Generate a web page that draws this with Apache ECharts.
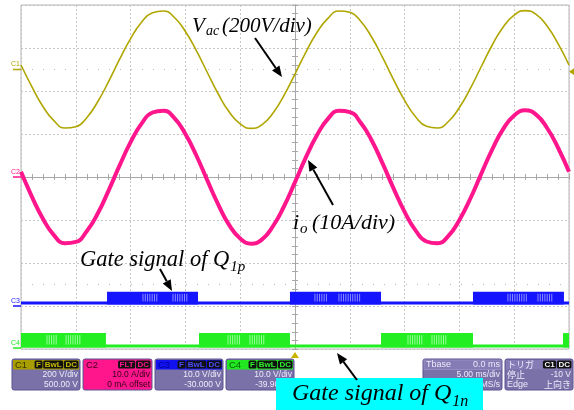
<!DOCTYPE html>
<html><head><meta charset="utf-8">
<script src="https://cdn.jsdelivr.net/npm/echarts@6/dist/echarts.min.js"></script>
<style>html,body{margin:0;padding:0;background:#fff}#c{width:574px;height:410px}</style>
</head><body><div id="c"></div><script>
// ---- data ----
const timeMs = [-25,-24,-23,-22,-21,-20,-19,-18,-17,-16,-15,-14,-13,-12,-11,-10,-9,-8,-7,-6,-5,-4,-3,-2,-1,0,1,2,3,4,5,6,7,8,9,10,11,12,13,14,15,16,17,18,19,20,21,22,23,24,25];
const vacVolts = [21,-81,-172,-238,-272,-266,-224,-150,-55,48,144,220,264,272,242,177,88,-14,-114,-198,-253,-274,-256,-202,-120,-21,81,172,238,272,266,224,150,55,-48,-144,-220,-264,-272,-242,-177,-88,14,114,198,253,274,256,202,120,21];
const ioAmps = [1.2,-4.6,-9.7,-13.5,-15.4,-15.1,-12.6,-8.5,-3.1,2.7,8.1,12.4,15.0,15.4,13.7,10.0,5.0,-0.8,-6.4,-11.2,-14.3,-15.5,-14.5,-11.4,-6.8,-1.2,4.6,9.7,13.5,15.4,15.1,12.6,8.5,3.1,-2.7,-8.1,-12.4,-15.0,-15.4,-13.7,-10.0,-5.0,0.8,6.4,11.2,14.3,15.5,14.5,11.4,6.8,1.2];
const c1OffsetV = 500, c1VoltsPerDiv = 200;
const c2AmpsPerDiv = 10;
const c3OffsetV = -30, c3VoltsPerDiv = 10;
const c4OffsetV = -39.9, c4VoltsPerDiv = 10;
const q1pHighMs = [[-17.15,-8.85],[-0.46,7.85],[16.24,24.54]];
const q1nHighMs = [[-25,-17.25],[-8.76,-0.46],[7.85,16.24],[24.45,25]];
const q1pLevelsV = [0.7, 3.3];
const q1nLevelsV = [0.6, 3.6];
const q1pGapMs = [[-13.87,-12.59],[-11.13,-9.76],[1.82,3.01],[4.01,5.93],[19.43,21.26],[22.17,23.54]];
const q1nGapMs = [[-22.63,-21.72],[-20.89,-19.62],[-6.11,-5.02],[-4.11,-2.83],[10.31,11.59],[12.5,13.96]];
const triggerLevelV = -10;
const dotRowsDiv = [2.5, -2.5];

const C1 = '#b0a600', C2 = '#ff168c', C3 = '#1414ff', C4 = '#22ee22';
const chart = echarts.init(document.getElementById('c'), null, {renderer:'canvas'});

function blockRender(levels, offset, vpd, color){
  return function(params, api){
    const a = api.coord([api.value(0), (levels[1]+offset)/vpd]);
    const b = api.coord([api.value(1), (levels[0]+offset)/vpd]);
    return {type:'rect', shape:{x:a[0], y:a[1], width:b[0]-a[0], height:b[1]-a[1]+1.5}, style:{fill:color}};
  };
}
function stripeRender(levels, offset, vpd, color){
  return function(params, api){
    const a = api.coord([api.value(0), (levels[1]+offset)/vpd]);
    const b = api.coord([api.value(1), (levels[0]+offset)/vpd]);
    const ch = [];
    for (let x = a[0]; x <= b[0]; x += 2.3) {
      ch.push({type:'line', shape:{x1:x, y1:a[1]+2, x2:x, y2:b[1]}, style:{stroke:color, lineWidth:0.9}});
    }
    return {type:'group', children:ch};
  };
}
const axisCommon = {type:'value', axisLabel:{show:false}, minorSplitLine:{show:false}};
const tickStyle = {color:'#a8a8a8', width:1};
const option = {
  animation:false,
  grid:{left:21, right:5, top:5, bottom:61, show:true, borderColor:'#b4b4b4', borderWidth:1},
  xAxis:[
    Object.assign({}, axisCommon, {min:-25, max:25, interval:5,
      axisLine:{onZero:true, lineStyle:tickStyle}, axisTick:{show:true, inside:true, length:3, lineStyle:tickStyle},
      minorTick:{show:true, splitNumber:5, length:3, lineStyle:tickStyle},
      splitLine:{show:true, lineStyle:{color:'#c6c6c6', type:[2,2]}}}),
    Object.assign({}, axisCommon, {min:-25, max:25, interval:5, position:'bottom',
      axisLine:{onZero:true, lineStyle:tickStyle}, axisTick:{show:true, inside:false, length:3, lineStyle:tickStyle},
      minorTick:{show:true, splitNumber:5, length:3, lineStyle:tickStyle},
      splitLine:{show:false}})
  ],
  yAxis:[
    Object.assign({}, axisCommon, {min:-4, max:4, interval:1,
      axisLine:{onZero:true, lineStyle:tickStyle}, axisTick:{show:true, inside:true, length:3, lineStyle:tickStyle},
      minorTick:{show:true, splitNumber:5, length:3, lineStyle:tickStyle},
      splitLine:{show:true, lineStyle:{color:'#c6c6c6', type:[2,2]}}}),
    Object.assign({}, axisCommon, {min:-4, max:4, interval:1, position:'left',
      axisLine:{onZero:true, lineStyle:tickStyle}, axisTick:{show:true, inside:false, length:3, lineStyle:tickStyle},
      minorTick:{show:true, splitNumber:5, length:3, lineStyle:tickStyle},
      splitLine:{show:false}})
  ],
  series:[
    {type:'line', data:[[-25,(q1nLevelsV[0]+c4OffsetV)/c4VoltsPerDiv],[25,(q1nLevelsV[0]+c4OffsetV)/c4VoltsPerDiv]],
      showSymbol:false, lineStyle:{color:C4, width:3}, z:2, silent:true},
    {type:'custom', data:q1nHighMs, encode:{x:[0,1]}, renderItem:blockRender(q1nLevelsV,c4OffsetV,c4VoltsPerDiv,C4), clip:true, z:2},
    {type:'custom', data:q1nGapMs, encode:{x:[0,1]}, renderItem:stripeRender(q1nLevelsV,c4OffsetV,c4VoltsPerDiv,'#a8ffa8'), clip:true, z:2},
    {type:'line', data:[[-25,(q1pLevelsV[0]+c3OffsetV)/c3VoltsPerDiv],[25,(q1pLevelsV[0]+c3OffsetV)/c3VoltsPerDiv]],
      showSymbol:false, lineStyle:{color:C3, width:3}, z:3, silent:true},
    {type:'custom', data:q1pHighMs, encode:{x:[0,1]}, renderItem:blockRender(q1pLevelsV,c3OffsetV,c3VoltsPerDiv,C3), clip:true, z:3},
    {type:'custom', data:q1pGapMs, encode:{x:[0,1]}, renderItem:stripeRender(q1pLevelsV,c3OffsetV,c3VoltsPerDiv,'#9a9aff'), clip:true, z:3},
    {type:'line', data:timeMs.map((t,i)=>[t, ioAmps[i]/c2AmpsPerDiv]), smooth:true, showSymbol:false,
      lineStyle:{color:C2, width:4}, z:4},
    {type:'line', data:timeMs.map((t,i)=>[t,(vacVolts[i]+c1OffsetV)/c1VoltsPerDiv]), smooth:true, showSymbol:false,
      lineStyle:{color:C1, width:1.6}, z:5,
      markLine:{silent:true, symbol:'none', label:{show:false}, lineStyle:{color:'#b8b8b8', type:[1,10], width:1},
        data:dotRowsDiv.map(v=>({yAxis:v}))}}
  ]
};
chart.setOption(option);

// ---- overlay graphics (labels, annotations, info boxes) ----
const mctx = document.createElement('canvas').getContext('2d');
function tw(t, font){ mctx.font = font; return mctx.measureText(t).width; }
const px = (t, d) => chart.convertToPixel({gridIndex:0}, [t, d]);
const G = [];
function txt(x, y, s, font, fill, align, va){
  G.push({type:'text', z:100, style:{x:x, y:y, text:s, font:font, fill:fill, textAlign:align||'left', textVerticalAlign:va||'top'}});
}
// serif text placed by its baseline
function stxt(x, base, s, size){
  G.push({type:'text', z:103, style:{x:x, y:base - 0.78*size, text:s, font:'italic ' + size + 'px "Liberation Serif"', fill:'#000', textAlign:'left', textVerticalAlign:'top'}});
}
const AF = s => 'italic ' + s + 'px "Liberation Serif"';
function arrow(x1,y1,x2,y2){
  const a = Math.atan2(y2-y1, x2-x1), L = 11, W = 4.5, c = Math.cos(a), s = Math.sin(a);
  const bx = x2 - L*c, by = y2 - L*s;
  G.push({type:'line', z:103, shape:{x1:x1,y1:y1,x2:bx,y2:by}, style:{stroke:'#000', lineWidth:2}});
  G.push({type:'polygon', z:103, shape:{points:[[x2,y2],[bx - W*s, by + W*c],[bx + W*s, by - W*c]]}, style:{fill:'#000'}});
}
// channel ground markers
const gridLeft = px(-25,0)[0], gridRight = px(25,0)[0];
[[ 'C1', (0+c1OffsetV)/c1VoltsPerDiv, C1 ], ['C2', 0, C2], ['C3', (0+c3OffsetV)/c3VoltsPerDiv, C3], ['C4', (0+c4OffsetV)/c4VoltsPerDiv, C4]].forEach(m=>{
  const y = Math.min(px(0, m[1])[1], 348);
  G.push({type:'line', z:100, shape:{x1:13, y1:y, x2:gridLeft, y2:y}, style:{stroke:m[2], lineWidth:1.5}});
  txt(11, y-1.5, m[0], '7px "Liberation Sans"', m[2], 'left', 'bottom');
});
// trigger level marker (right) and trigger position marker (bottom)
const ty = px(0, (triggerLevelV + c1OffsetV)/c1VoltsPerDiv)[1];
G.push({type:'polygon', z:100, shape:{points:[[gridRight, ty],[gridRight+6, ty-4],[gridRight+6, ty+4]]}, style:{fill:C1}});
const tx = px(0, 0)[0];
G.push({type:'polygon', z:100, shape:{points:[[tx, 352],[tx-4, 358],[tx+4, 358]]}, style:{fill:'#c8b400'}});

// annotations
stxt(192, 32, 'V', 21); stxt(206, 35, 'ac', 14); stxt(222, 32, '(200V/div)', 21);
arrow(255, 38, 282, 77);
stxt(293, 229, 'i', 22); stxt(300, 233, 'o', 15); stxt(312, 229, '(10A/div)', 22);
arrow(333, 205, 308, 160);
stxt(80, 266, 'Gate signal of Q', 22.5);
stxt(80 + tw('Gate signal of Q', AF(22.5)) + 1, 271, '1p', 15);
arrow(160, 269, 172, 291);

// info boxes
const BF = '8.5px "Liberation Sans"';
const bodyCol = '#7a71a9', bodyTxt = '#ecebfa';
function badges(xRight, list, bg, fg){
  let xr = xRight;
  for (let i = list.length-1; i >= 0; i--) {
    const w = tw(list[i], 'bold 8px "Liberation Sans"') + 3;
    G.push({type:'rect', z:100, shape:{x:xr-w, y:360.5, width:w, height:8, r:1.5}, style:{fill:bg}});
    G.push({type:'text', z:101, style:{x:xr-w/2, y:364.8, text:list[i], font:'bold 8px "Liberation Sans"', fill:fg, textAlign:'center', textVerticalAlign:'middle'}});
    xr -= w + 0.8;
  }
}
function chBox(x, w, hdr, title, titleCol, bl, bdgFg, l1, l2, body, bodyText){
  G.push({type:'rect', z:99, shape:{x:x, y:359, width:w, height:31, r:2}, style:{fill:body, stroke:'#5a5290', lineWidth:1}});
  G.push({type:'rect', z:99, shape:{x:x+1, y:360, width:w-2, height:9.5}, style:{fill:hdr}});
  G.push({type:'text', z:100, style:{x:x+3, y:365, text:title, font:'9.5px "Liberation Sans"', fill:titleCol, textVerticalAlign:'middle'}});
  badges(x+w-1.5, bl, '#111', bdgFg);
  G.push({type:'text', z:100, style:{x:x+w-2, y:375, text:l1, font:BF, fill:bodyText, textAlign:'right', textVerticalAlign:'middle'}});
  G.push({type:'text', z:100, style:{x:x+w-2, y:385, text:l2, font:BF, fill:bodyText, textAlign:'right', textVerticalAlign:'middle'}});
}
chBox(12, 68, '#a89e00', 'C1', '#3a3600', ['F','BwL','DC'], '#c8bc00', '200 V/div', '500.00 V', bodyCol, bodyTxt);
chBox(83, 69, C2, 'C2', '#400020', ['FLT','DC'], C2, '10.0 A/div', '0 mA offset', C2, '#300018');
chBox(155, 68, '#1212f0', 'C3', '#00009a', ['F','BwL','DC'], '#4a4aff', '10.0 V/div', '-30.000 V', bodyCol, bodyTxt);
chBox(226, 68, '#22e822', 'C4', '#086008', ['F','BwL','DC'], '#30f030', '10.0 V/div', '-39.900 V', bodyCol, bodyTxt);
// timebase box
G.push({type:'rect', z:99, shape:{x:423, y:359, width:79, height:31, r:2}, style:{fill:bodyCol, stroke:'#5a5290', lineWidth:1}});
G.push({type:'rect', z:99, shape:{x:424, y:360, width:77, height:9.5}, style:{fill:'#857cb6', stroke:'#a49ccc', lineWidth:0.6}});
txt(426, 365, 'Tbase', '9px "Liberation Sans"', bodyTxt, 'left', 'middle');
txt(500, 365, '0.0 ms', '9px "Liberation Sans"', bodyTxt, 'right', 'middle');
txt(500, 375, '5.00 ms/div', BF, bodyTxt, 'right', 'middle');
txt(500, 385, '2.50 MS/s', BF, bodyTxt, 'right', 'middle');
// trigger box
const JF = '9px "Noto Sans CJK JP"';
G.push({type:'rect', z:99, shape:{x:505, y:359, width:68, height:31, r:2}, style:{fill:bodyCol, stroke:'#5a5290', lineWidth:1}});
G.push({type:'rect', z:99, shape:{x:506, y:360, width:66, height:9.5}, style:{fill:'#857cb6'}});
txt(507, 365, 'トリガ', JF, bodyTxt, 'left', 'middle');
badges(571.5, ['C1','DC'], '#111', '#f4f4f4');
txt(507, 375, '停止', JF, bodyTxt, 'left', 'middle');
txt(571, 375, '-10 V', BF, bodyTxt, 'right', 'middle');
txt(507, 385, 'Edge', '9px "Liberation Sans"', bodyTxt, 'left', 'middle');
txt(571, 385, '上向き', JF, bodyTxt, 'right', 'middle');
// cyan label box
G.push({type:'rect', z:102, shape:{x:276, y:378, width:207, height:32}, style:{fill:'#00ffff'}});
stxt(292, 400, 'Gate signal of Q', 24);
stxt(292 + tw('Gate signal of Q', AF(24)) + 1, 406, '1n', 16);
arrow(357, 380, 337, 353);

chart.setOption({graphic:{elements:G}});
</script></body></html>
